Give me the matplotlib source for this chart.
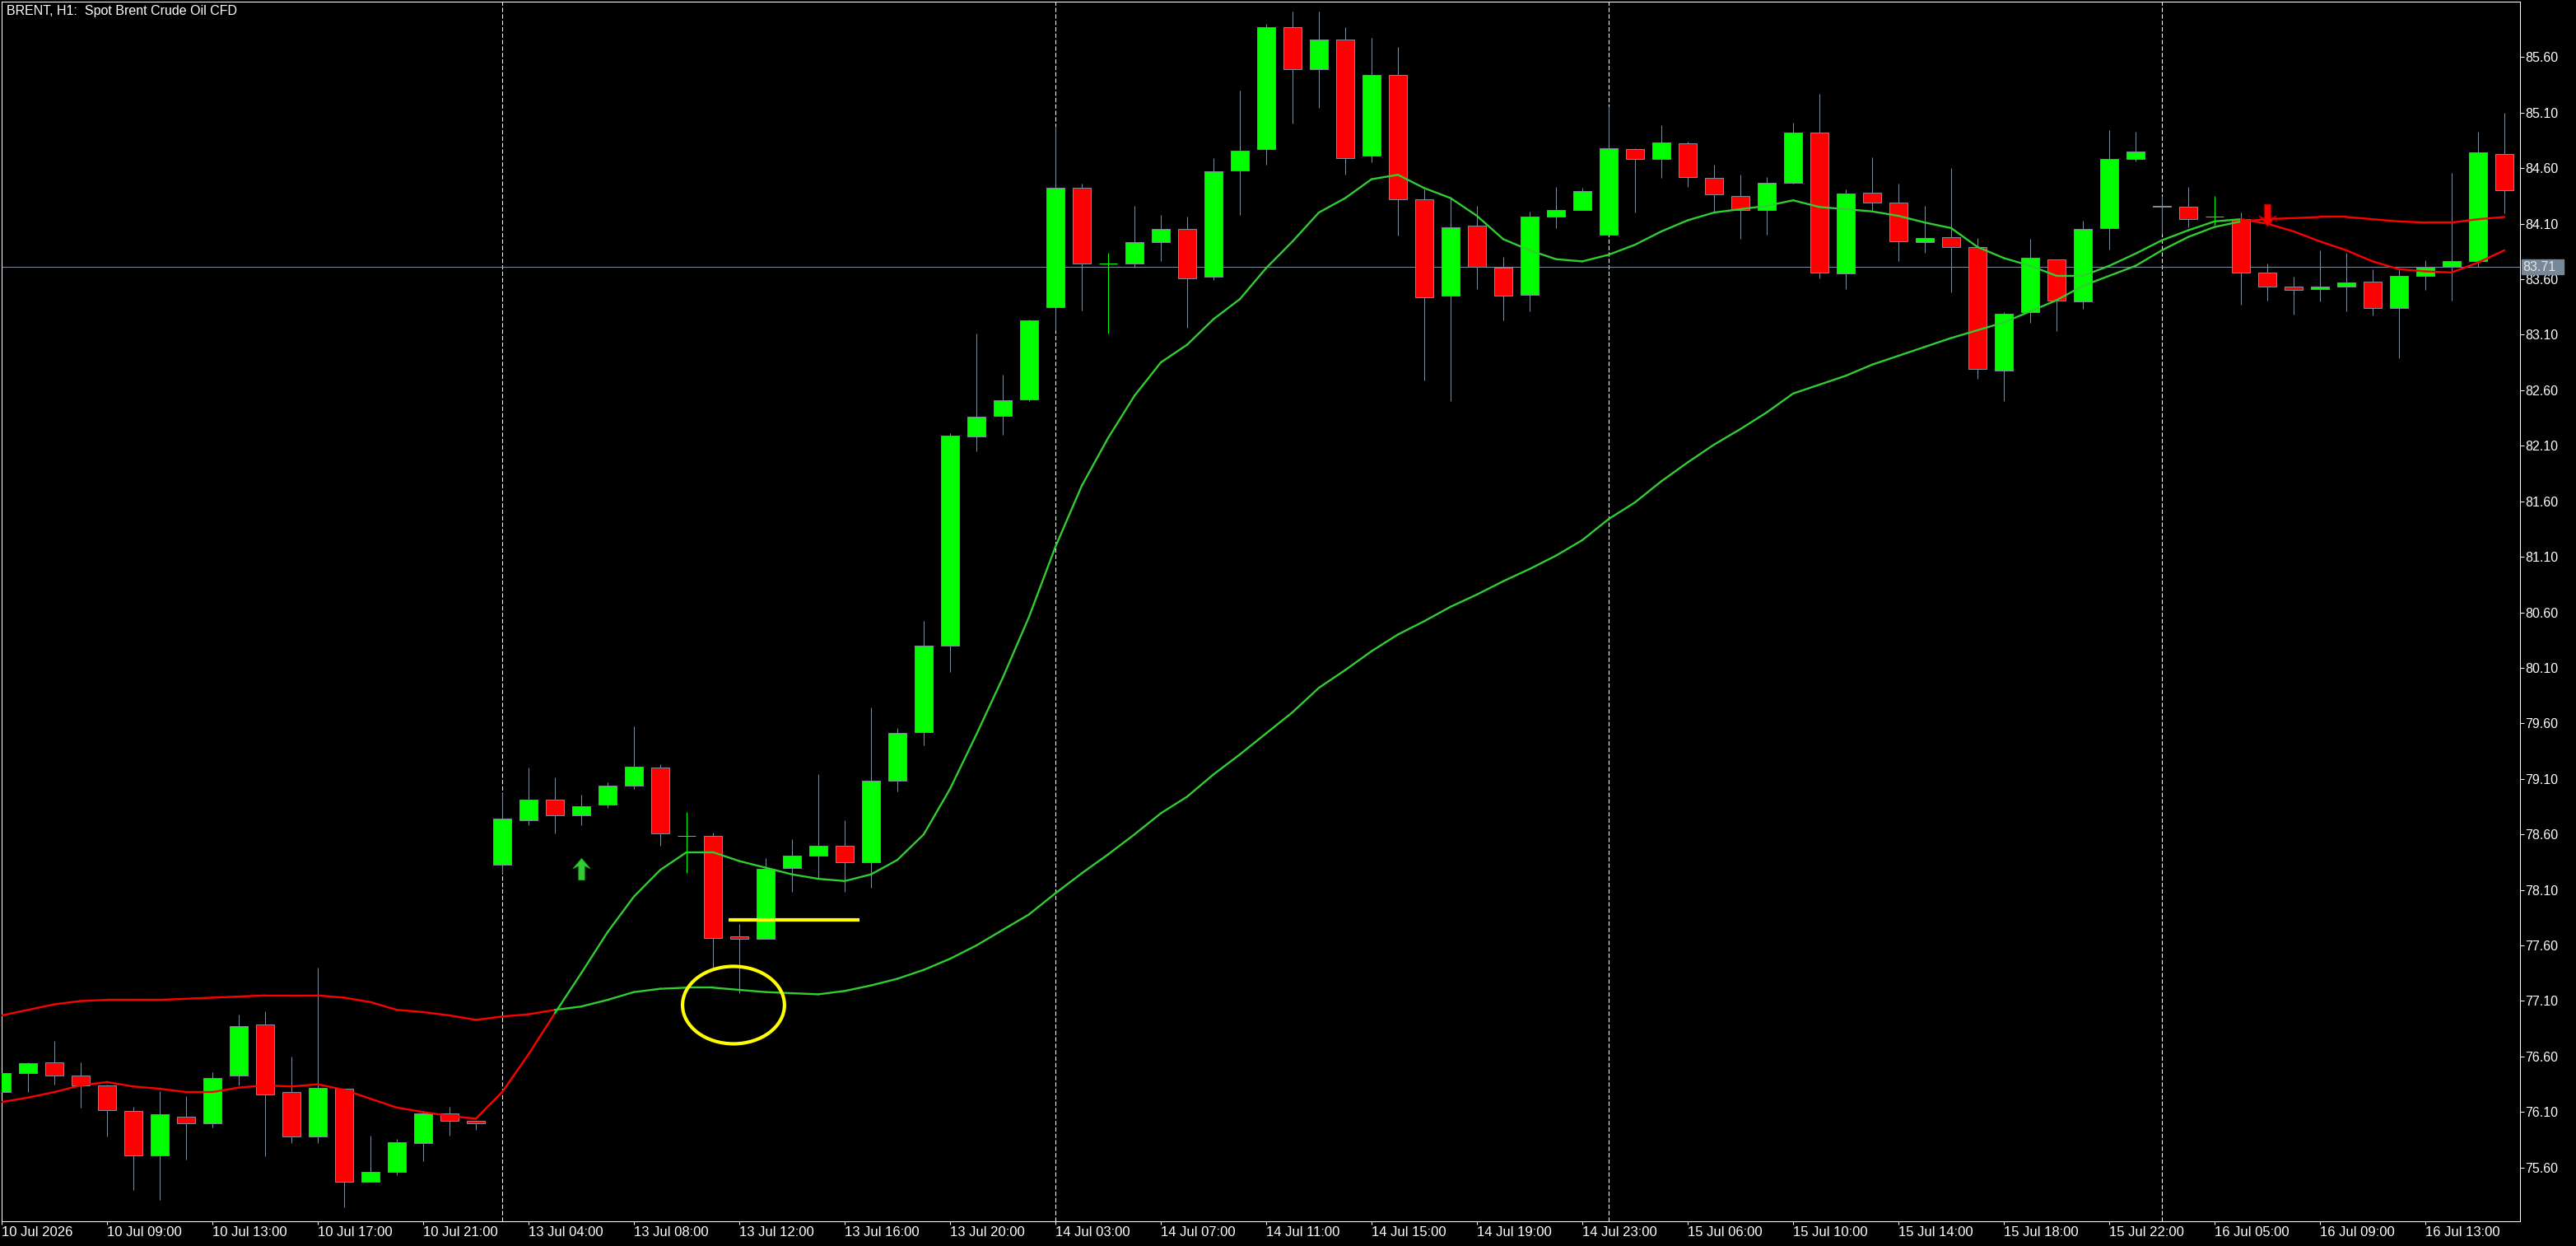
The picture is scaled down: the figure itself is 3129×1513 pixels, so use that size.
import numpy as np
import matplotlib
matplotlib.use("Agg")
import matplotlib.pyplot as plt
from matplotlib.collections import LineCollection
from matplotlib.patches import Ellipse, Rectangle
from matplotlib.path import Path
import matplotlib.transforms as mtransforms

plt.rcParams['font.family'] = ['Liberation Sans', 'DejaVu Sans']

# --- data: BRENT H1, bars from 10 Jul 05:00 to 16 Jul 16:00 ---
opens = [76.28, 76.45, 76.55, 76.43, 76.34, 76.11, 75.71, 76.06, 76.00, 76.43,
         76.89, 76.28, 75.88, 76.31, 75.47, 75.56, 75.82, 76.09, 76.02, 78.33,
         78.73, 78.91, 78.77, 78.87, 79.04, 79.20, 78.59, 78.59, 77.68, 77.66,
         78.30, 78.41, 78.50, 78.35, 79.08, 79.52, 80.30, 82.18, 82.37, 82.52,
         83.35, 84.42, 83.74, 83.74, 83.93, 84.05, 83.62, 84.58, 84.77, 85.87,
         85.49, 85.76, 84.71, 85.44, 84.32, 83.45, 84.08, 83.70, 83.46, 84.16,
         84.22, 84.00, 84.77, 84.68, 84.82, 84.51, 84.35, 84.22, 84.47, 84.92,
         83.65, 84.38, 84.29, 83.93, 83.98, 83.89, 82.78, 83.30, 83.78, 83.40,
         84.06, 84.68, 84.26, 84.25, 84.16, 84.14, 83.66, 83.53, 83.51, 83.53,
         83.58, 83.34, 83.63, 83.71, 83.76, 84.73]
highs = [76.46, 76.55, 76.74, 76.55, 76.35, 76.15, 76.29, 76.24, 76.46, 76.98,
         77.01, 76.60, 77.40, 76.31, 75.89, 75.86, 76.11, 76.15, 76.02, 78.97,
         79.20, 79.11, 78.96, 79.07, 79.57, 79.23, 78.80, 78.62, 77.79, 78.39,
         78.56, 79.14, 78.73, 79.74, 79.56, 80.52, 82.21, 83.11, 82.74, 83.24,
         84.98, 84.46, 83.84, 84.26, 84.18, 84.16, 84.69, 85.30, 85.90, 86.01,
         86.01, 85.87, 85.77, 85.69, 84.41, 84.33, 84.26, 83.80, 84.21, 84.43,
         84.42, 85.16, 84.78, 84.99, 84.84, 84.63, 84.54, 84.52, 85.01, 85.27,
         84.41, 84.70, 84.46, 84.26, 84.60, 83.97, 83.30, 83.96, 83.78, 84.13,
         84.94, 84.93, 84.35, 84.43, 84.35, 84.20, 83.74, 83.62, 83.86, 83.84,
         83.69, 83.69, 83.77, 84.56, 84.93, 85.10]
lows = [76.27, 76.28, 76.35, 76.14, 75.88, 75.40, 75.31, 75.67, 75.96, 76.34,
        75.70, 75.82, 75.82, 75.24, 75.47, 75.53, 75.66, 75.89, 75.94, 78.25,
        78.68, 78.61, 78.68, 78.84, 79.01, 78.50, 78.25, 77.40, 77.17, 77.66,
        78.08, 78.20, 78.08, 78.12, 78.99, 79.40, 80.06, 82.05, 82.20, 82.50,
        83.14, 83.32, 83.11, 83.70, 83.76, 83.16, 83.59, 84.18, 84.63, 85.00,
        85.14, 84.54, 84.65, 83.99, 82.69, 82.50, 83.51, 83.23, 83.31, 84.06,
        84.22, 84.00, 84.20, 84.51, 84.43, 84.21, 83.96, 84.00, 84.46, 83.61,
        83.51, 84.22, 83.76, 83.84, 83.48, 82.70, 82.50, 83.21, 83.13, 83.33,
        83.87, 84.66, 84.01, 84.07, 84.09, 83.37, 83.41, 83.28, 83.40, 83.31,
        83.27, 82.89, 83.50, 83.41, 83.71, 84.19]
closes = [76.45, 76.54, 76.43, 76.34, 76.12, 75.71, 76.08, 76.00, 76.41, 76.87,
          76.26, 75.88, 76.32, 75.47, 75.56, 75.83, 76.09, 76.02, 76.00, 78.74,
          78.91, 78.77, 78.85, 79.04, 79.21, 78.61, 78.59, 77.67, 77.66, 78.29,
          78.41, 78.50, 78.35, 79.08, 79.51, 80.30, 82.19, 82.36, 82.51, 83.23,
          84.42, 83.74, 83.74, 83.93, 84.05, 83.61, 84.57, 84.76, 85.87, 85.49,
          85.76, 84.69, 85.44, 84.32, 83.44, 84.07, 83.71, 83.45, 84.16, 84.22,
          84.39, 84.78, 84.68, 84.83, 84.52, 84.36, 84.22, 84.47, 84.92, 83.66,
          84.37, 84.29, 83.94, 83.97, 83.89, 82.79, 83.29, 83.79, 83.41, 84.05,
          84.68, 84.75, 84.25, 84.14, 84.16, 83.66, 83.53, 83.50, 83.53, 83.57,
          83.34, 83.63, 83.70, 83.76, 84.74, 84.40]

fast_ma = [76.19, 76.23, 76.28, 76.34, 76.37, 76.33, 76.31, 76.28, 76.28, 76.32,
           76.34, 76.33, 76.35, 76.30, 76.22, 76.14, 76.10, 76.065, 76.04, 76.28,
           76.62, 76.99, 77.35, 77.72, 78.04, 78.28, 78.44, 78.44, 78.36, 78.30,
           78.24, 78.20, 78.18, 78.24, 78.37, 78.60, 79.01, 79.50, 80.01, 80.56,
           81.19, 81.74, 82.17, 82.55, 82.85, 83.01, 83.24, 83.42, 83.70, 83.94,
           84.20, 84.33, 84.50, 84.54, 84.42, 84.33, 84.17, 83.96, 83.86, 83.78,
           83.76, 83.82, 83.91, 84.03, 84.13, 84.20, 84.23, 84.26, 84.31, 84.25,
           84.23, 84.21, 84.17, 84.11, 84.06, 83.89, 83.79, 83.72, 83.63, 83.63,
           83.72, 83.83, 83.95, 84.04, 84.12, 84.14, 84.10, 84.03, 83.94, 83.86,
           83.76, 83.69, 83.67, 83.66, 83.75, 83.86]
slow_ma = [76.97, 77.02, 77.07, 77.10, 77.11, 77.11, 77.11, 77.12, 77.13, 77.14,
           77.15, 77.15, 77.15, 77.13, 77.09, 77.02, 77.00, 76.97, 76.93, 76.96,
           76.98, 77.02, 77.05, 77.11, 77.18, 77.21, 77.22, 77.22, 77.20, 77.18,
           77.17, 77.16, 77.19, 77.24, 77.30, 77.38, 77.48, 77.60, 77.74, 77.88,
           78.07, 78.25, 78.42, 78.60, 78.79, 78.94, 79.14, 79.32, 79.51, 79.70,
           79.92, 80.08, 80.25, 80.40, 80.52, 80.65, 80.76, 80.88, 80.99, 81.11,
           81.25, 81.44, 81.59, 81.78, 81.95, 82.11, 82.25, 82.40, 82.57, 82.65,
           82.73, 82.83, 82.91, 82.99, 83.07, 83.14, 83.21, 83.31, 83.41, 83.54,
           83.63, 83.72, 83.86, 83.98, 84.07, 84.12, 84.14, 84.15, 84.16, 84.16,
           84.14, 84.12, 84.11, 84.11, 84.14, 84.16]

time_labels = ["10 Jul 2026", "10 Jul 09:00", "10 Jul 13:00", "10 Jul 17:00",
               "10 Jul 21:00", "13 Jul 04:00", "13 Jul 08:00", "13 Jul 12:00",
               "13 Jul 16:00", "13 Jul 20:00", "14 Jul 03:00", "14 Jul 07:00",
               "14 Jul 11:00", "14 Jul 15:00", "14 Jul 19:00", "14 Jul 23:00",
               "15 Jul 06:00", "15 Jul 10:00", "15 Jul 14:00", "15 Jul 18:00",
               "15 Jul 22:00", "16 Jul 05:00", "16 Jul 09:00", "16 Jul 13:00"]
label_step = 4
day_starts = [19, 40, 61, 82]
price_ticks = [75.60, 76.10, 76.60, 77.10, 77.60, 78.10, 78.60, 79.10, 79.60, 80.10,
               80.60, 81.10, 81.60, 82.10, 82.60, 83.10, 83.60, 84.10, 84.60, 85.10, 85.60]
current_price = 83.71

buy_signal = (22, 78.29)
sell_signal = (86, 84.18)
hline_level = 77.827
hline_span = (27.6, 32.55)
circle_center = (27.78, 77.063)
circle_size = (3.87, 0.697)

# --- colours ---
bg = "black"
bull_col = "#00FF00"
bear_col = "#FF0000"
wick_col = "#7C8A99"
ma_up = "#32CD32"
ma_dn = "#FF0000"

W, H = 3129, 1513
fig = plt.figure(figsize=(W / 100, H / 100), dpi=100, facecolor=bg)
ax = fig.add_axes([2 / W, 1 - 1483 / H, (3061 - 2) / W, (1483 - 2) / H])
ax.set_facecolor(bg)

o = np.array(opens)
h = np.array(highs)
l = np.array(lows)
c = np.array(closes)
x = np.arange(len(o))
bull = c > o
bear = c < o
doji = c == o
bw = 0.69

# separators and price line
for d in day_starts:
    ax.axvline(d, color="white", lw=0.75, ls=(0, (5, 2.5)), zorder=1)
ax.axhline(current_price, color=wick_col, lw=0.75, zorder=1)

# candles
ax.vlines(x[~doji], l[~doji], h[~doji], color=wick_col, lw=0.75, zorder=2)
ax.bar(x[bull], (c - o)[bull], bottom=o[bull], width=bw, color=bull_col,
       edgecolor=wick_col, linewidth=0.75, zorder=3)
ax.bar(x[bear], (o - c)[bear], bottom=c[bear], width=bw, color=bear_col,
       edgecolor=wick_col, linewidth=0.75, zorder=3)
ax.vlines(x[doji], l[doji], h[doji], color=bull_col, lw=0.75, zorder=3)
ax.hlines(o[doji], x[doji] - bw / 2, x[doji] + bw / 2, color=bull_col, lw=0.75, zorder=3)

# moving averages, coloured by crossover
f = np.array(fast_ma)
s = np.array(slow_ma)
seg_cols = [ma_up if f[i + 1] > s[i + 1] else ma_dn for i in range(len(f) - 1)]
for arr in (f, s):
    pts = np.column_stack([x, arr])
    segs = np.stack([pts[:-1], pts[1:]], axis=1)
    ax.add_collection(LineCollection(segs, colors=seg_cols, linewidths=1.7,
                                     zorder=4, capstyle="round"))

# signal arrows
up_arrow = Path([(0, 1), (0.8, 0.05), (0.28, 0.3), (0.28, -1), (-0.28, -1),
                 (-0.28, 0.3), (-0.8, 0.05), (0, 1)], closed=True)
down_arrow = Path([(vx, -vy) for vx, vy in up_arrow.vertices], closed=True)
ax.plot(*buy_signal, marker=up_arrow, ms=19, color=ma_up, mec="#1E9E1E", mew=0.6, zorder=5)
ax.plot(*sell_signal, marker=down_arrow, ms=19, color="#FF0000", mec="#CC0000", mew=0.6, zorder=5)

# user drawings
ax.hlines(hline_level, *hline_span, color="#FFFF00", lw=3.0, zorder=6)
ax.add_patch(Ellipse(circle_center, *circle_size, fill=False, edgecolor="#FFFF00",
                     lw=3.0, zorder=6))

# axes
ax.set_xlim(0, (3061 - 2) / 32)
ax.set_ylim(75.116, 86.099)
for sp in ax.spines.values():
    sp.set_color("white")
    sp.set_linewidth(0.75)

ax.yaxis.tick_right()
ax.set_yticks(price_ticks)
ax.set_yticklabels([f"{p:.2f}" for p in price_ticks])
ax.tick_params(axis="y", colors="white", length=3.6, width=0.75, pad=1,
               labelsize=11.5, direction="out")
ax.set_xticks(x[::label_step])
ax.set_xticklabels(time_labels, ha="left")
ax.tick_params(axis="x", colors="white", length=3, width=0.75, pad=1.5,
               labelsize=12, direction="out")

# current price tag
tr = mtransforms.blended_transform_factory(ax.transAxes, ax.transData)
ax.add_patch(Rectangle((1.0007, current_price - 0.068), 0.0167, 0.136,
                       transform=tr, color="#778899", clip_on=False, zorder=7))
ax.text(1.0012, current_price, f"{current_price:.2f}", transform=tr, color="#E6E6E6",
        fontsize=11.5, va="center", ha="left", clip_on=False, zorder=8)

ax.text(0.002, 0.997, "BRENT, H1:  Spot Brent Crude Oil CFD", transform=ax.transAxes,
        color="white", fontsize=11.5, va="top", ha="left")

fig.savefig("out.png", dpi=100, facecolor=bg)
